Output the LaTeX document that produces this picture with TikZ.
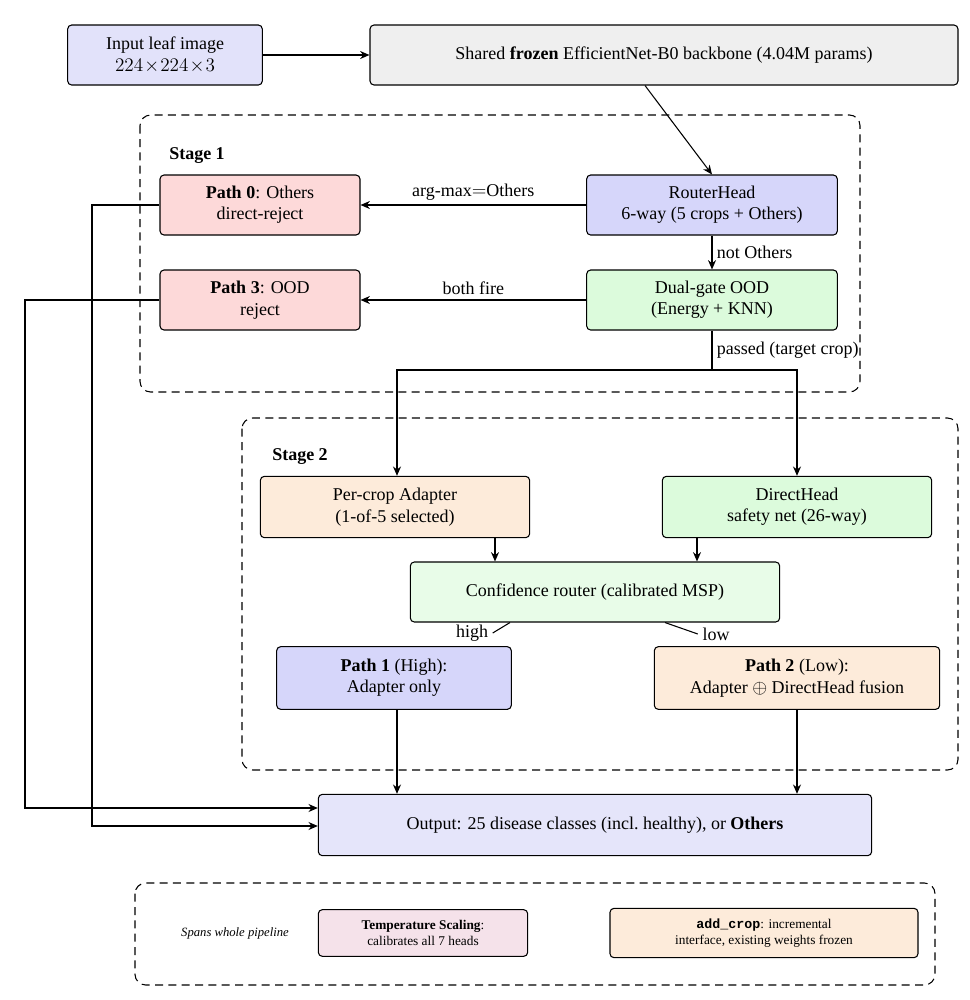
\documentclass[tikz,border=0pt]{standalone}
\usepackage{fontspec}
\setmainfont{Liberation Serif}
\setmonofont{Liberation Mono}
\usetikzlibrary{arrows.meta}
\definecolor{cIn}{HTML}{E2E2FA}
\definecolor{cBb}{HTML}{EFEFEF}
\definecolor{cRt}{HTML}{D6D6FA}
\definecolor{cPk}{HTML}{FDD9D9}
\definecolor{cGr}{HTML}{DCFBDC}
\definecolor{cPe}{HTML}{FDEBDA}
\definecolor{cCf}{HTML}{E8FCE8}
\definecolor{cOut}{HTML}{E5E5FA}
\definecolor{cTs}{HTML}{F5E2EA}
\begin{document}
\begin{tikzpicture}[x=0.75pt,y=-0.75pt,
  box/.style={draw,thick,rounded corners=3pt,align=center,inner sep=0pt,font=\rmfamily\fontsize{13.5}{16}\selectfont},
  grp/.style={draw,thick,dash pattern=on 6pt off 4pt,rounded corners=8pt},
  arr/.style={thick,-{Stealth[length=7pt,width=6pt]}},
  lab/.style={font=\rmfamily\fontsize{13.5}{16}\selectfont}]
\useasboundingbox (0,0) rectangle (970,1000);
\draw[grp] (140,115) rectangle (860,392);
\draw[grp] (242,418) rectangle (958,770);
\draw[grp] (135,883) rectangle (935,985);
\node[font=\rmfamily\fontsize{13.5}{16}\selectfont\bfseries] at (197,156) {Stage 1};
\node[font=\rmfamily\fontsize{13.5}{16}\selectfont\bfseries] at (300,457) {Stage 2};

\node[box,fill=cIn,minimum width=146pt,minimum height=45pt] (in) at (165,55) {Input leaf image\\$224\!\times\!224\!\times\!3$};
\node[box,fill=cBb,minimum width=441pt,minimum height=45pt] (bb) at (664,55) {Shared \textbf{frozen} EfficientNet-B0 backbone (4.04M params)};
\node[box,fill=cRt,minimum width=188pt,minimum height=45pt] (rt) at (712,205) {RouterHead\\6-way (5 crops + Others)};
\node[box,fill=cPk,minimum width=150pt,minimum height=45pt] (p0) at (260,205) {\textbf{Path 0}: Others\\direct-reject};
\node[box,fill=cGr,minimum width=188pt,minimum height=45pt] (ood) at (712,300) {Dual-gate OOD\\(Energy + KNN)};
\node[box,fill=cPk,minimum width=150pt,minimum height=45pt] (p3) at (260,300) {\textbf{Path 3}: OOD\\reject};
\node[box,fill=cPe,minimum width=202pt,minimum height=46pt] (ad) at (395,507) {Per-crop Adapter\\(1-of-5 selected)};
\node[box,fill=cGr,minimum width=202pt,minimum height=46pt] (dh) at (797,507) {DirectHead\\safety net (26-way)};
\node[box,fill=cCf,minimum width=277pt,minimum height=45pt] (cf) at (595,592) {Confidence router (calibrated MSP)};
\node[box,fill=cRt,minimum width=176pt,minimum height=47pt] (p1) at (394,678) {\textbf{Path 1} (High):\\Adapter only};
\node[box,fill=cPe,minimum width=214pt,minimum height=47pt] (p2) at (797,678) {\textbf{Path 2} (Low):\\Adapter $\oplus$ DirectHead fusion};
\node[box,fill=cOut,minimum width=415pt,minimum height=46pt] (out) at (595,825) {Output: 25 disease classes (incl.\ healthy), or \textbf{Others}};
\node[box,fill=cTs,minimum width=157pt,minimum height=35pt,font=\rmfamily\fontsize{10}{12.5}\selectfont] (ts) at (423,933) {\textbf{Temperature Scaling}:\\calibrates all 7 heads};
\node[box,fill=cPe,minimum width=231pt,minimum height=37pt,font=\rmfamily\fontsize{10}{12.5}\selectfont] (ac) at (764,933) {\texttt{\textbf{add\_crop}}: incremental\\interface, existing weights frozen};
\node[font=\rmfamily\fontsize{9.5}{11}\selectfont\itshape] (sp) at (235,933) {Spans whole pipeline};

\draw[arr] (in) -- (bb);
\draw[arr] (bb.south -| 645,0) -- (rt.north);
\draw[arr] (rt) -- node[lab,above] {arg-max${=}$Others} (p0);
\draw[arr] (rt) -- node[lab,right] {not Others} (ood);
\draw[arr] (ood) -- node[lab,above] {both fire} (p3);
\coordinate (sp1) at (712,370);
\draw[thick] (ood.south) -- node[lab,right] {passed (target crop)} (sp1);
\draw[arr] (sp1) -- (397,370) -- (ad.north -| 397,0);
\draw[arr] (sp1) -- (797,370) -- (dh.north);
\draw[arr] (ad.south -| 495,0) -- (cf.north -| 495,0);
\draw[arr] (dh.south -| 697,0) -- (cf.north -| 697,0);
\node[lab] (hi) at (472,633) {high};
\node[lab] (lo) at (716,634) {low};
\draw[thick] (cf.south -| 510,0) -- (hi.east);
\draw[thick] (cf.south -| 665,0) -- (lo.west);
\draw[arr] (p1.south -| 397,0) -- (out.north -| 397,0);
\draw[arr] (p2.south) -- (out.north -| 797,0);
\draw[arr] (p0.west) -- (92,205) -- (92,826) -- (out.west |- 0,826);
\draw[arr] (p3.west) -- (25,300) -- (25,808) -- (out.west |- 0,808);
\end{tikzpicture}
\end{document}
